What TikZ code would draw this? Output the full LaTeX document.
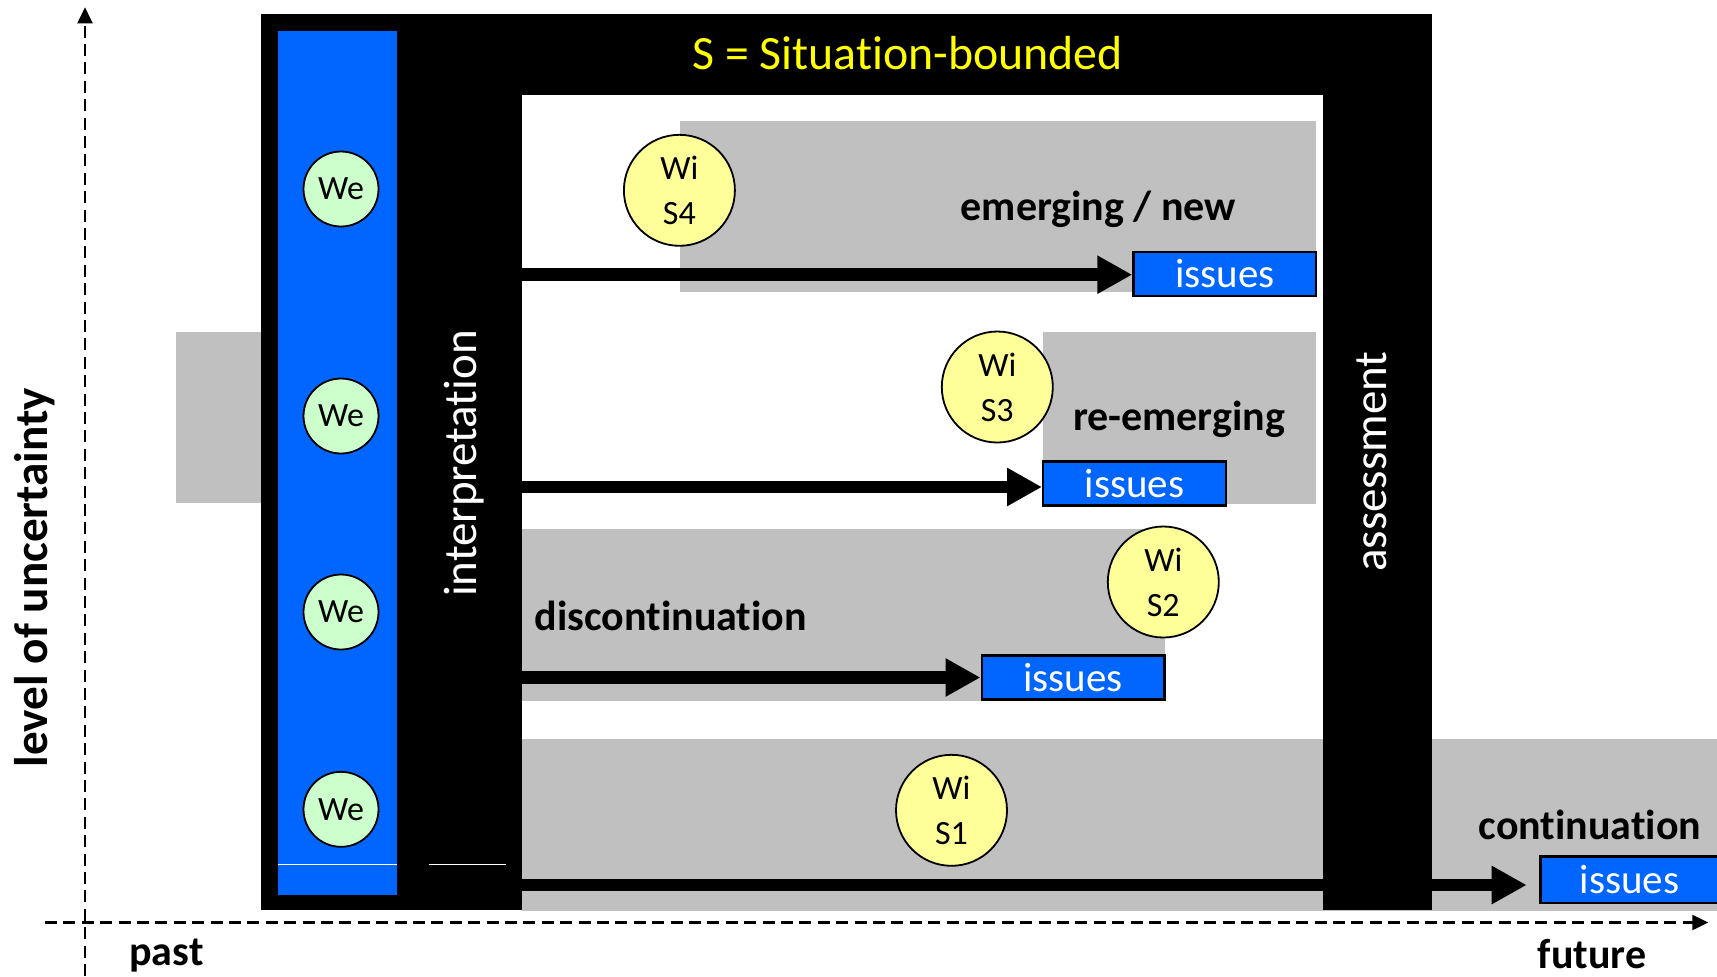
\documentclass[tikz,border=0pt]{standalone}
\usepackage{fontspec}
\setmainfont{Carlito}[RawFeature={-liga;-clig;-calt;-dlig}]
\usetikzlibrary{arrows.meta}
\definecolor{issueblue}{HTML}{0066FF}
\definecolor{wiyellow}{HTML}{FFFF99}
\definecolor{wegreen}{HTML}{CCFFCC}
\definecolor{bandgrey}{HTML}{C0C0C0}
\definecolor{titleyellow}{HTML}{FFFF00}
\begin{document}
\begin{tikzpicture}[x=0.5pt,y=-0.5pt,
  band/.style={fill=bandgrey},
  we/.style={shape=circle,draw=black,line width=0.9pt,fill=wegreen,minimum size=37.5pt,inner sep=0pt,font=\fontsize{17}{20}\selectfont},
  wi/.style={shape=circle,draw=black,line width=0.9pt,fill=wiyellow,minimum size=55.5pt,inner sep=0pt,align=center,font=\fontsize{17}{22.5}\selectfont},
  issue/.style={fill=issueblue,draw=black,line width=1.2pt,minimum width=91.3pt,minimum height=22pt,inner sep=0pt,text=white,font=\fontsize{20.5}{24}\selectfont},
  lbl/.style={anchor=base,inner sep=0pt,font=\bfseries\fontsize{21}{25}\selectfont},
  bar/.style={anchor=base,rotate=90,font=\fontsize{23.5}{28}\selectfont},
  flow/.style={line width=6.25pt,-{Triangle[length=17.5pt,width=18pt]}},
  axis/.style={line width=1.1pt,dash pattern=on 6pt off 3.2pt,-{Triangle[length=8pt,width=7.5pt]}}]
\useasboundingbox (0,0) rectangle (1717,976);

\fill[band] (176,332.3) rectangle (261.4,503.3);
\fill[band] (680.3,120.7) rectangle (1316.3,291.7);
\fill[band] (1043.3,332.3) rectangle (1316,503.5);
\fill[band] (521.6,529.3) rectangle (1165,700.7);
\fill[band] (521.6,739) rectangle (1717,910.7);

\fill[black] (261.4,14.3) rectangle (521.6,910);
\fill[black] (521.6,14.3) rectangle (1432,95);
\fill[black] (1322.7,95) rectangle (1432,910);
\fill[issueblue] (277.5,30.7) rectangle (397.2,895);
\draw[white,line width=0.6pt] (277.5,864.3) -- (397.2,864.3);
\draw[white,line width=0.6pt] (428.6,864.3) -- (506,864.3);

\coordinate (yfoot) at (85,976);
\coordinate (ytop) at (85,7.3);
\coordinate (xfoot) at (45,922.5);
\coordinate (xtip) at (1708.3,922.5);
\draw[axis] (yfoot) -- (ytop);
\draw[axis] (xfoot) -- (xtip);

\node[issue] (iss1) at (1224.75,273.7) {issues};
\node[issue] (iss2) at (1134.5,483.3) {issues};
\node[issue] (iss3) at (1073,677.3) {issues};
\node[issue,draw=none,minimum width=87.65pt] (iss4) at (1629.35,879.7) {issues};
\draw[line width=1.2pt] (iss4.north east) -- (iss4.north west) -- (iss4.south west) -- (iss4.south east);

\coordinate (s1) at (521.6,274.7);
\coordinate (s2) at (521.6,487);
\coordinate (s3) at (521.6,677.5);
\coordinate (s4) at (521.6,885);
\coordinate (e4) at (1526.7,885);
\draw[flow] (s1) -- (s1 -| iss1.west);
\draw[flow] (s2) -- (s2 -| iss2.west);
\draw[flow] (s3) -- (s3 -| iss3.west);
\draw[flow] (s4) -- (e4);

\node[we] (we1) at (341,189) {We};
\node[we] (we2) at (341,416) {We};
\node[we] (we3) at (341,612) {We};
\node[we] (we4) at (341,809.3) {We};

\node[wi] (wi4) at (679.4,190.3) {Wi\\S4};
\node[wi] (wi3) at (997.3,387) {Wi\\S3};
\node[wi] (wi2) at (1163.3,582) {Wi\\S2};
\node[wi] (wi1) at (951.5,810.3) {Wi\\S1};

\node[anchor=base,text=titleyellow,font=\fontsize{23.9}{28}\selectfont] (title) at (907.5,69) {S = Situation-bounded};
\node[bar,text=white] (interp) at (476.5,463.5) {interpretation};
\node[bar,text=white] (assess) at (1386.7,461.5) {assessment};
\node[bar,font=\bfseries\fontsize{23.6}{28}\selectfont] (uncert) at (47.8,577.5) {level of uncertainty};

\node[lbl] (emerg) at (1098.5,220) {emerging / new};
\node[lbl] (reemerg) at (1179,430) {re-emerging};
\node[lbl] (discont) at (670.8,630) {discontinuation};
\node[lbl] (contin) at (1590,839.3) {continuation};
\node[lbl] (past) at (166.5,965) {past};
\node[lbl] (future) at (1592,968) {future};
\end{tikzpicture}
\end{document}
